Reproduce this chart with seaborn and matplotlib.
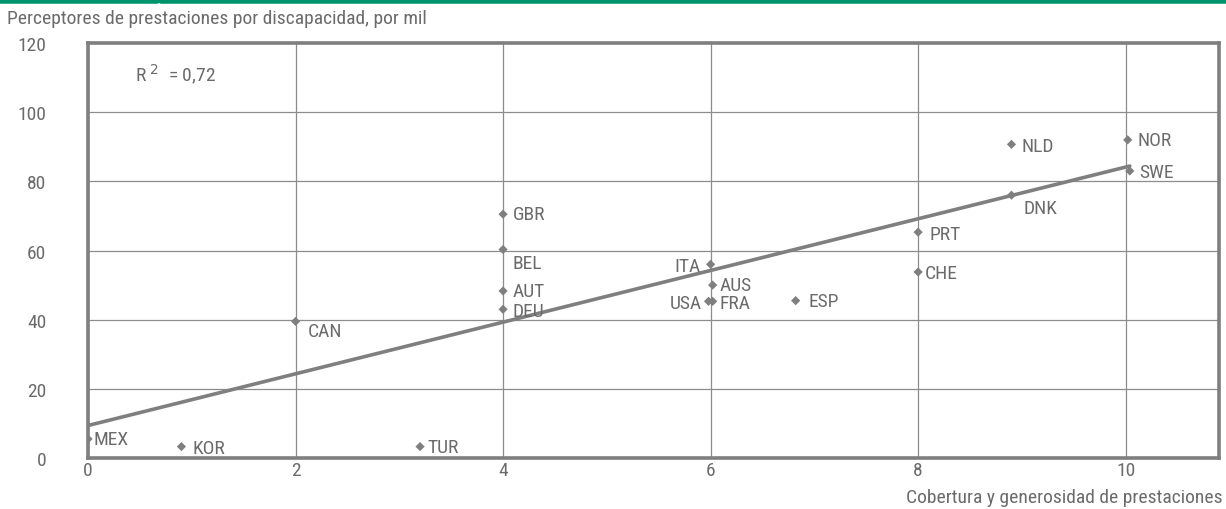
import pandas as pd
import numpy as np
import matplotlib.pyplot as plt
import seaborn as sns
from matplotlib import font_manager
from matplotlib.lines import Line2D

# data
countries = ["MEX", "KOR", "TUR", "CAN", "GBR", "BEL", "AUT", "DEU", "ITA", "AUS",
             "USA", "FRA", "ESP", "CHE", "PRT", "DNK", "NLD", "NOR", "SWE"]
coverage = [0.0, 0.9, 3.2, 2.0, 4.0, 4.0, 4.0, 4.0, 6.0, 6.02,
            5.98, 6.02, 6.82, 8.0, 8.0, 8.9, 8.9, 10.02, 10.04]
recipients = [5.5, 3.3, 3.3, 39.5, 70.5, 60.3, 48.3, 43.0, 56.0, 50.0,
              45.3, 45.3, 45.5, 53.8, 65.3, 76.0, 90.7, 92.0, 83.0]
r2_text = "R$^{\\ 2}$  = 0,72"
title = "Perceptores de prestaciones por discapacidad, por mil"
xlabel = "Cobertura y generosidad de prestaciones"

df = pd.DataFrame({"pais": countries, "x": coverage, "y": recipients})

# label offsets in points (dx, dy, ha)
offsets = {
    "MEX": (4, 0, "left"), "KOR": (8, -1, "left"), "TUR": (5, 0, "left"),
    "CAN": (9, -7, "left"), "GBR": (7, 0, "left"), "BEL": (7, -10, "left"),
    "AUT": (7, 0, "left"), "DEU": (7, -1, "left"), "ITA": (-7, -1, "right"),
    "AUS": (5, 0, "left"), "USA": (-5, -1, "right"), "FRA": (5, -1, "left"),
    "ESP": (9, 0, "left"), "CHE": (5, -1, "left"), "PRT": (8, -1, "left"),
    "DNK": (9, -9, "left"), "NLD": (7, -1, "left"), "NOR": (7, 0, "left"),
    "SWE": (7, -1, "left"),
}

sns.set_style("white")

# pick a narrow font if one is there
names = {f.name for f in font_manager.fontManager.ttflist}
stretch = "normal"
fam = "Roboto"
for cand in ["Liberation Sans Narrow", "Roboto Condensed", "Open Sans Condensed",
             "Noto Sans Condensed", "DejaVu Sans Condensed"]:
    if cand in names:
        fam = cand
        break
else:
    cond = [f for f in font_manager.fontManager.ttflist
            if f.stretch in ("condensed", "semi-condensed", 500, 600, 700) and f.name in
            ("Noto Sans", "Open Sans", "Roboto", "DejaVu Sans", "Inter")]
    if cond:
        fam = cond[0].name
        stretch = "condensed"
plt.rcParams["font.family"] = [fam, "DejaVu Sans"]
plt.rcParams["font.stretch"] = stretch

grey = "#7f7f7f"
txt = "#6b6b6b"

fig = plt.figure(figsize=(12.26, 5.10), dpi=100)

# size the text so the title is as wide as in the reference (~416 px)
probe = fig.text(0, 0, title, fontsize=10)
w = probe.get_window_extent(renderer=fig.canvas.get_renderer()).width
probe.remove()
fs = 10 * 416 / w

ax = fig.add_axes([0.0718, 0.1, 0.9225, 0.8137])

sns.regplot(data=df, x="x", y="y", ax=ax, ci=None, scatter=False, truncate=True,
            line_kws={"color": grey, "lw": 2.6, "zorder": 3})
sns.scatterplot(data=df, x="x", y="y", ax=ax, marker="D", s=22, color=grey,
                edgecolor="none", zorder=4)

for _, r in df.iterrows():
    dx, dy, ha = offsets[r["pais"]]
    ax.annotate(r["pais"], (r["x"], r["y"]), xytext=(dx, dy), textcoords="offset points",
                ha=ha, va="center", fontsize=fs, color=txt)

ax.text(0.45, 111, r2_text, fontsize=fs, color=txt, va="center")

ax.set_xlim(0, 10.9)
ax.set_ylim(0, 120)
ax.set_xticks(range(0, 11, 2))
ax.set_yticks(range(0, 121, 20))
ax.grid(True, color="#8c8c8c", lw=0.9)
ax.set_axisbelow(True)
for s in ax.spines.values():
    s.set_visible(True)
    s.set_color(grey)
    s.set_linewidth(2.6)
ax.tick_params(axis="both", length=0, labelsize=fs, labelcolor=txt)
ax.tick_params(axis="x", pad=2)
ax.tick_params(axis="y", pad=30)
ax.set_xlabel("")
ax.set_ylabel("")

fig.text(0.9975, 0.005, xlabel, ha="right", va="bottom", fontsize=fs, color=txt)
fig.text(0.006, 0.963, title, ha="left", va="center", fontsize=fs, color=txt)

# green rule at the top with a small gap
green = "#00946c"
fig.add_artist(Line2D([0, 0.128], [0.997, 0.997], color=green, lw=4, transform=fig.transFigure))
fig.add_artist(Line2D([0.131, 1], [0.997, 0.997], color=green, lw=4, transform=fig.transFigure))

fig.savefig("out.png", dpi=100)
